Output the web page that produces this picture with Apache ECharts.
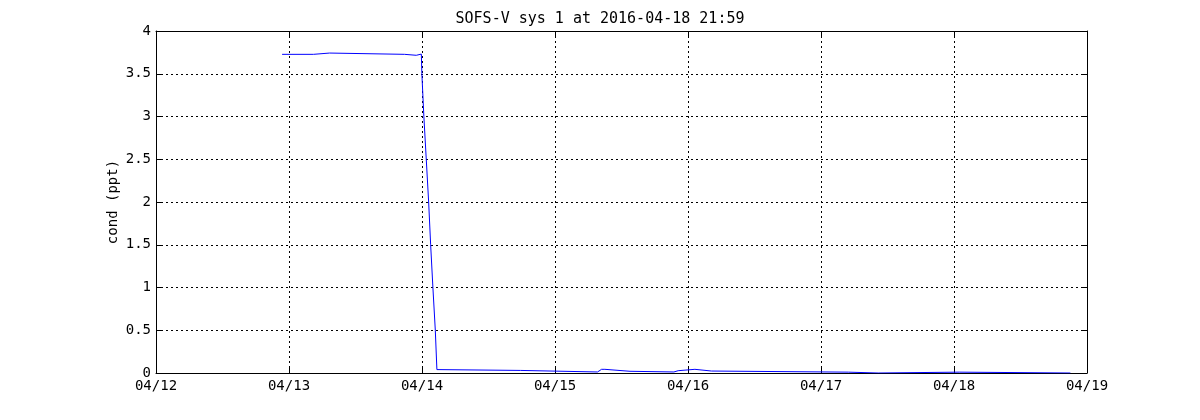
<!DOCTYPE html>
<html>
<head>
<meta charset="utf-8">
<script src="https://cdn.jsdelivr.net/npm/echarts@6/dist/echarts.min.js"></script>
<style>
html,body{margin:0;padding:0;background:#fff;}
#chart{width:1200px;height:420px;}
</style>
</head>
<body>
<div id="chart"></div>
<script>
// Time in days since 04/12 00:00 (2016)
const timeDays = [0.948, 1.184, 1.186, 1.305, 1.307, 1.869, 1.871, 1.957, 1.959, 1.995,
  1.999, 2.014, 2.032, 2.050, 2.065, 2.082, 2.100, 2.112, 2.127, 2.742,
  2.745, 3.320, 3.335, 3.350, 3.375, 3.390, 3.564, 3.570, 3.894, 3.900,
  3.926, 3.930, 4.052, 4.056, 4.177, 4.182, 5.205, 5.210, 5.430, 5.435,
  6.039, 6.044, 6.875];
// Conductivity (ppt)
const condValues = [3.727, 3.727, 3.742, 3.742, 3.727, 3.727, 3.716, 3.716, 3.73, 3.73,
  3.5, 3.0, 2.5, 2.0, 1.5, 1.0, 0.5, 0.04, 0.03, 0.03,
  0.012, 0.012, 0.02, 0.043, 0.043, 0.02, 0.02, 0.012, 0.012, 0.027,
  0.027, 0.043, 0.043, 0.023, 0.023, 0.01, 0.01, 0, 0, 0.01,
  0.01, 0, 0];
const xTickLabels = ['04/12', '04/13', '04/14', '04/15', '04/16', '04/17', '04/18', '04/19'];
const yTickLabels = ['0', '0.5', '1', '1.5', '2', '2.5', '3', '3.5', '4'];
const titleText = 'SOFS-V sys 1 at 2016-04-18 21:59';
const yName = 'cond (ppt)';

const seriesData = timeDays.map((t, i) => [t, condValues[i]]);
const FONT = 'DejaVu Sans Mono';
const gridLine = {show: true, lineStyle: {color: '#000', width: 1, type: [2, 3]}};
const axLine = {show: true, onZero: false, lineStyle: {color: '#000', width: 1}};
const tick = {show: true, inside: true, length: 5, lineStyle: {color: '#000', width: 1}};

const chart = echarts.init(document.getElementById('chart'), null, {renderer: 'canvas'});
chart.setOption({
  animation: false,
  backgroundColor: '#fff',
  title: {
    text: titleText,
    left: 'center',
    top: 7,
    textStyle: {fontFamily: FONT, fontSize: 15, fontWeight: 'normal', color: '#000'}
  },
  grid: {left: 156, right: 113, top: 31, bottom: 47, containLabel: false},
  xAxis: [{
    type: 'value', min: 0, max: 7, interval: 1, position: 'bottom',
    axisLine: axLine, axisTick: tick, splitLine: gridLine,
    axisLabel: {fontFamily: FONT, fontSize: 14, color: '#000', margin: 6,
      formatter: v => xTickLabels[Math.round(v)]}
  }, {
    type: 'value', min: 0, max: 7, interval: 1, position: 'top',
    axisLine: axLine, axisTick: tick, splitLine: {show: false}, axisLabel: {show: false}
  }],
  yAxis: [{
    type: 'value', min: 0, max: 4, interval: 0.5, position: 'left',
    name: yName, nameLocation: 'middle', nameGap: 36, nameRotate: 90,
    nameMoveOverlap: false,
    nameTextStyle: {fontFamily: FONT, fontSize: 14, color: '#000'},
    axisLine: axLine, axisTick: tick, splitLine: gridLine,
    axisLabel: {fontFamily: FONT, fontSize: 14, color: '#000', margin: 5,
      formatter: v => yTickLabels[Math.round(v * 2)]}
  }, {
    type: 'value', min: 0, max: 4, interval: 0.5, position: 'right',
    axisLine: axLine, axisTick: tick, splitLine: {show: false}, axisLabel: {show: false}
  }],
  series: [{
    type: 'line',
    data: seriesData,
    xAxisIndex: 0, yAxisIndex: 0,
    showSymbol: false, symbol: 'none',
    lineStyle: {color: '#0000ff', width: 1},
    z: 5
  }]
});
</script>
</body>
</html>
